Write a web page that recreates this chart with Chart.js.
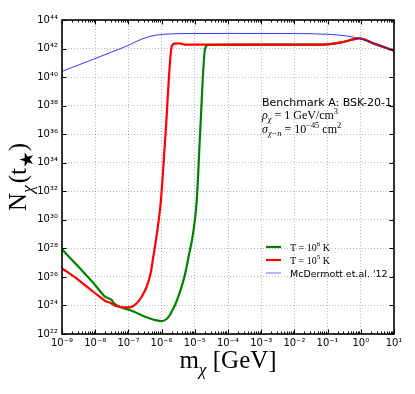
<!DOCTYPE html>
<html>
<head>
<meta charset="utf-8">
<script src="https://cdn.jsdelivr.net/npm/chart.js@4"></script>
<style>
  html, body { margin: 0; padding: 0; background: #fff; }
</style>
</head>
<body>
<canvas id="chart" width="415" height="394"></canvas>
<script>
// log10 of dark matter mass (GeV) and log10 of N_chi
const greenMassExp = [-9, -8.46, -8.06, -7.8, -7.7, -7.6, -7.5, -7.45, -7.25, -6.9, -6.55, -6.15, -6.0, -5.85, -5.75, -5.7, -5.6, -5.5, -5.4, -5.3, -5.18, -5.05, -4.94, -4.84, -4.69, -4.6, -3, -1.3, -1.0, -0.63, -0.33, -0.12, -0.05, 0.38, 1.0];
const greenNExp    = [27.93, 26.6, 25.59, 24.85, 24.61, 24.5, 24.38, 24.19, 23.9, 23.63, 23.26, 22.95, 22.9, 23.05, 23.33, 23.56, 24.0, 24.6, 25.3, 26.13, 27.5, 29.07, 31.4, 36.07, 42.0, 42.25, 42.27, 42.27, 42.29, 42.41, 42.58, 42.69, 42.72, 42.36, 41.85];

const redMassExp = [-9, -8.5, -8.06, -7.8, -7.7, -7.55, -7.4, -7.2, -7.05, -6.9, -6.75, -6.6, -6.45, -6.33, -6.25, -6.17, -6.02, -5.88, -5.69, -5.6, -5.45, -5.3, -3, -1.3, -1.0, -0.63, -0.33, -0.12, -0.05, 0.38, 1.0];
const redNExp    = [26.6, 25.78, 24.96, 24.5, 24.31, 24.19, 23.98, 23.88, 23.86, 23.9, 24.15, 24.61, 25.31, 26.25, 27.41, 28.58, 31.39, 36.08, 42.2, 42.35, 42.36, 42.28, 42.27, 42.27, 42.29, 42.41, 42.58, 42.69, 42.72, 42.36, 41.85];

const blueMassExp = [-9, -8.5, -8, -7.5, -7.2, -7, -6.8, -6.6, -6.4, -6.2, -6, -5.7, -5.3, -4, -2, -1, -0.84, -0.6, -0.42, -0.25, -0.12, 0.18, 0.58, 1.0];
const blueNExp    = [40.4, 40.85, 41.3, 41.76, 42.03, 42.22, 42.45, 42.66, 42.82, 42.93, 42.99, 43.03, 43.05, 43.06, 43.05, 43.0, 42.97, 42.93, 42.88, 42.81, 42.72, 42.55, 42.2, 41.85];

const seriesLabels = ['T = 10⁶ K', 'T = 10⁵ K', "McDermott et.al. '12"];

const xTickExps = [-9, -8, -7, -6, -5, -4, -3, -2, -1, 0, 1];
const yTickExps = [22, 24, 26, 28, 30, 32, 34, 36, 38, 40, 42, 44];

const SUP = { '-': '⁻', '0': '⁰', '1': '¹', '2': '²', '3': '³', '4': '⁴', '5': '⁵', '6': '⁶', '7': '⁷', '8': '⁸', '9': '⁹' };
function pow10Label(value) {
    const e = Math.round(Math.log10(value));
    return '10' + String(e).split('').map(c => SUP[c]).join('');
}

function toPoints(xs, ys) {
    return xs.map((x, i) => ({ x: Math.pow(10, x), y: Math.pow(10, ys[i]) }));
}

// draws a run of text pieces with sub/superscripts, returns the width
function richText(ctx, parts, x, y, size, family, draw) {
    let cx = x;
    parts.forEach(p => {
        const s = (p.scale || ((p.sub || p.sup) ? 0.7 : 1)) * size;
        ctx.font = (p.it ? 'italic ' : '') + s + 'px ' + (p.family || family);
        const dy = p.sub ? size * 0.28 : (p.sup ? -size * 0.42 : 0);
        if (draw) ctx.fillText(p.t, cx, y + dy);
        cx += ctx.measureText(p.t).width + (p.gap || 0);
    });
    return cx - x;
}

const SERIF = '"Liberation Serif", "DejaVu Serif", serif';
const SANS = '"DejaVu Sans", sans-serif';

const decorations = {
    id: 'decorations',
    afterDraw(chart) {
        const ctx = chart.ctx;
        const area = chart.chartArea;
        const xs = chart.scales.x, ys = chart.scales.y;
        ctx.save();
        ctx.strokeStyle = '#000';

        // inward tick marks on all four sides
        ctx.lineWidth = 1;
        ctx.beginPath();
        for (let k = -9; k <= 0; k++) {
            for (let j = 2; j <= 9; j++) {
                const px = Math.round(xs.getPixelForValue(j * Math.pow(10, k))) + 0.5;
                ctx.moveTo(px, area.bottom); ctx.lineTo(px, area.bottom - 2.5);
                ctx.moveTo(px, area.top); ctx.lineTo(px, area.top + 2.5);
            }
        }
        xTickExps.forEach(e => {
            const px = Math.round(xs.getPixelForValue(Math.pow(10, e))) + 0.5;
            ctx.moveTo(px, area.bottom); ctx.lineTo(px, area.bottom - 4.5);
            ctx.moveTo(px, area.top); ctx.lineTo(px, area.top + 4.5);
        });
        yTickExps.forEach(e => {
            const py = Math.round(ys.getPixelForValue(Math.pow(10, e))) + 0.5;
            ctx.moveTo(area.left, py); ctx.lineTo(area.left + 4.5, py);
            ctx.moveTo(area.right, py); ctx.lineTo(area.right - 4.5, py);
        });
        ctx.stroke();

        // frame
        ctx.lineWidth = 1.6;
        ctx.strokeRect(area.left, area.top, area.right - area.left, area.bottom - area.top);

        ctx.fillStyle = '#000';
        ctx.textBaseline = 'alphabetic';
        ctx.textAlign = 'left';

        // annotation block
        ctx.font = '11px ' + SANS;
        ctx.fillText('Benchmark A: BSK-20-1', 262, 106);
        richText(ctx, [{ t: 'ρ', it: true }, { t: 'χ', sub: true, it: true }, { t: ' = 1 GeV/cm' }, { t: '3', sup: true }], 262, 119, 12, SERIF, true);
        richText(ctx, [{ t: 'σ', it: true }, { t: 'χ−n', sub: true, it: true }, { t: ' = 10' }, { t: '−45', sup: true }, { t: ' cm' }, { t: '2', sup: true }], 262, 133, 12, SERIF, true);

        // legend
        const legendRows = [
            { color: '#008000', width: 2.2, y: 247, parts: [{ t: 'T = 10' }, { t: '6', sup: true }, { t: ' K' }] },
            { color: '#ff0000', width: 2.2, y: 260, parts: [{ t: 'T = 10' }, { t: '5', sup: true }, { t: ' K' }] },
            { color: 'rgba(60,60,255,0.6)', width: 1.3, y: 273, text: seriesLabels[2] }
        ];
        legendRows.forEach(r => {
            ctx.strokeStyle = r.color;
            ctx.lineWidth = r.width;
            ctx.beginPath();
            ctx.moveTo(266, r.y); ctx.lineTo(281, r.y);
            ctx.stroke();
            if (r.parts) {
                richText(ctx, r.parts, 290, r.y + 3.5, 10, SERIF, true);
            } else {
                ctx.font = '9.5px ' + SANS;
                ctx.fillText(r.text, 290, r.y + 3.5);
            }
        });

        // axis titles
        const xParts = [{ t: 'm' }, { t: 'χ', sub: true, it: true }, { t: ' [GeV]' }];
        const xw = richText(ctx, xParts, 0, 0, 25, SERIF, false);
        richText(ctx, xParts, 228 - xw / 2, 368, 25, SERIF, true);

        const yParts = [{ t: 'N' }, { t: 'χ', sub: true, it: true, gap: 2 }, { t: '(t' },
                        { t: '★', sub: true, scale: 0.75, family: SANS }, { t: ')' }];
        const yw = richText(ctx, yParts, 0, 0, 25, SERIF, false);
        ctx.translate(26, 177);
        ctx.rotate(-Math.PI / 2);
        richText(ctx, yParts, -yw / 2, 0, 25, SERIF, true);

        ctx.restore();
    }
};

const whiteBg = {
    id: 'whiteBg',
    beforeDraw(chart) {
        const ctx = chart.ctx;
        ctx.save();
        ctx.fillStyle = '#fff';
        ctx.fillRect(0, 0, chart.width, chart.height);
        ctx.restore();
    }
};

const ctx = document.getElementById('chart').getContext('2d');
new Chart(ctx, {
    type: 'line',
    data: {
        datasets: [
            {
                label: seriesLabels[2],
                data: toPoints(blueMassExp, blueNExp),
                borderColor: 'rgba(20,20,255,0.85)',
                borderWidth: 1,
                order: 0
            },
            {
                label: seriesLabels[1],
                data: toPoints(redMassExp, redNExp),
                borderColor: '#ff0000',
                borderWidth: 2.2,
                order: 1
            },
            {
                label: seriesLabels[0],
                data: toPoints(greenMassExp, greenNExp),
                borderColor: '#008000',
                borderWidth: 2.2,
                order: 2
            }
        ]
    },
    options: {
        responsive: false,
        animation: false,
        layout: { padding: { left: 0, right: 21, top: 20, bottom: 0 } },
        elements: {
            point: { radius: 0 },
            line: { cubicInterpolationMode: 'monotone', fill: false }
        },
        plugins: {
            legend: { display: false },
            tooltip: { enabled: false }
        },
        scales: {
            x: {
                type: 'logarithmic',
                min: 1e-9,
                max: 10,
                afterBuildTicks: scale => { scale.ticks = xTickExps.map(e => ({ value: Math.pow(10, e) })); },
                afterFit: scale => { scale.height = 60; },
                ticks: {
                    autoSkip: false,
                    maxRotation: 0,
                    padding: 3,
                    color: '#000',
                    font: { family: SANS, size: 10 },
                    callback: value => pow10Label(value)
                },
                grid: { color: 'rgba(0,0,0,0.35)', lineWidth: 0.8, drawTicks: false },
                border: { display: false, dash: [1, 2] }
            },
            y: {
                type: 'logarithmic',
                min: 1e22,
                max: 1e44,
                afterBuildTicks: scale => { scale.ticks = yTickExps.map(e => ({ value: Math.pow(10, e) })); },
                afterFit: scale => { scale.width = 62; },
                ticks: {
                    autoSkip: false,
                    padding: 4,
                    color: '#000',
                    font: { family: SANS, size: 10 },
                    callback: value => pow10Label(value)
                },
                grid: { color: 'rgba(0,0,0,0.35)', lineWidth: 0.8, drawTicks: false },
                border: { display: false, dash: [1, 2] }
            }
        }
    },
    plugins: [whiteBg, decorations]
});
</script>
</body>
</html>
